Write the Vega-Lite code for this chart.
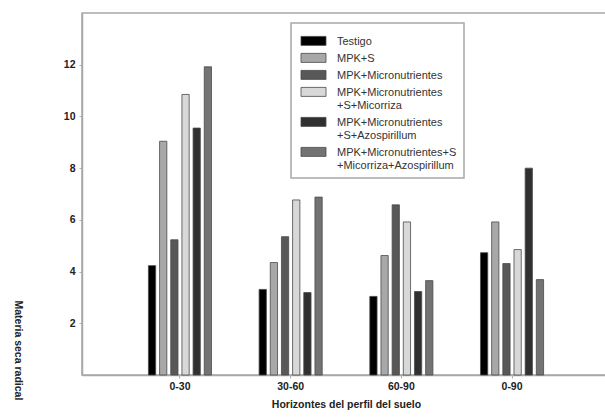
{
  "$schema": "https://vega.github.io/schema/vega-lite/v6.json",
  "width": 528,
  "height": 362,
  "autosize": {"type": "none"},
  "padding": {"left": 82, "top": 13, "right": 0, "bottom": 44},
  "background": "white",
  "config": {
    "font": "Liberation Sans",
    "view": {"stroke": "#a8a8a8", "strokeWidth": 1.5},
    "axis": {
      "domainColor": "#a8a8a8",
      "domainWidth": 1.5,
      "tickColor": "#b0b0b0",
      "labelFont": "Liberation Sans",
      "labelFontWeight": "bold",
      "labelColor": "#222222",
      "labelFontSize": 10.5,
      "titleFont": "Liberation Sans",
      "titleFontWeight": "bold",
      "titleColor": "#222222",
      "titleFontSize": 10.5,
      "grid": false
    }
  },
  "data": {
    "values": [
      {"h": "0-30", "t": "Testigo", "v": 4.23},
      {"h": "0-30", "t": "MPK+S", "v": 9.04},
      {"h": "0-30", "t": "MPK+Micronutrientes", "v": 5.23},
      {"h": "0-30", "t": "MPK+Micronutrientes|+S+Micorriza", "v": 10.85},
      {"h": "0-30", "t": "MPK+Micronutrientes|+S+Azospirillum", "v": 9.55},
      {"h": "0-30", "t": "MPK+Micronutrientes+S|+Micorriza+Azospirillum", "v": 11.92},
      {"h": "30-60", "t": "Testigo", "v": 3.31},
      {"h": "30-60", "t": "MPK+S", "v": 4.35},
      {"h": "30-60", "t": "MPK+Micronutrientes", "v": 5.35},
      {"h": "30-60", "t": "MPK+Micronutrientes|+S+Micorriza", "v": 6.77},
      {"h": "30-60", "t": "MPK+Micronutrientes|+S+Azospirillum", "v": 3.19},
      {"h": "30-60", "t": "MPK+Micronutrientes+S|+Micorriza+Azospirillum", "v": 6.88},
      {"h": "60-90", "t": "Testigo", "v": 3.04},
      {"h": "60-90", "t": "MPK+S", "v": 4.62},
      {"h": "60-90", "t": "MPK+Micronutrientes", "v": 6.58},
      {"h": "60-90", "t": "MPK+Micronutrientes|+S+Micorriza", "v": 5.92},
      {"h": "60-90", "t": "MPK+Micronutrientes|+S+Azospirillum", "v": 3.23},
      {"h": "60-90", "t": "MPK+Micronutrientes+S|+Micorriza+Azospirillum", "v": 3.65},
      {"h": "0-90", "t": "Testigo", "v": 4.73},
      {"h": "0-90", "t": "MPK+S", "v": 5.92},
      {"h": "0-90", "t": "MPK+Micronutrientes", "v": 4.31},
      {"h": "0-90", "t": "MPK+Micronutrientes|+S+Micorriza", "v": 4.85},
      {"h": "0-90", "t": "MPK+Micronutrientes|+S+Azospirillum", "v": 8.0},
      {"h": "0-90", "t": "MPK+Micronutrientes+S|+Micorriza+Azospirillum", "v": 3.69}
    ]
  },
  "mark": {"type": "bar", "stroke": "#4a4a4a", "strokeWidth": 0.8},
  "encoding": {
    "x": {
      "field": "h",
      "type": "nominal",
      "sort": ["0-30", "30-60", "60-90", "0-90"],
      "scale": {"paddingInner": 0.43, "paddingOuter": 0.6},
      "axis": {
        "title": "Horizontes del perfil del suelo",
        "labelAngle": 0,
        "tickSize": 3,
        "labelPadding": 3,
        "titlePadding": 8
      }
    },
    "xOffset": {
      "field": "t",
      "type": "nominal",
      "sort": null,
      "scale": {"paddingInner": 0.35, "paddingOuter": 0}
    },
    "y": {
      "field": "v",
      "type": "quantitative",
      "scale": {"domain": [0, 14], "nice": false},
      "axis": {
        "values": [2, 4, 6, 8, 10, 12],
        "title": "Materia seca radical",
        "titleAngle": 90,
        "titleAlign": "left",
        "titleBaseline": "middle",
        "titleX": -65,
        "titleY": 287,
        "tickSize": 3,
        "labelPadding": 4
      }
    },
    "fill": {
      "field": "t",
      "type": "nominal",
      "sort": null,
      "scale": {
        "domain": ["Testigo", "MPK+S", "MPK+Micronutrientes", "MPK+Micronutrientes|+S+Micorriza", "MPK+Micronutrientes|+S+Azospirillum", "MPK+Micronutrientes+S|+Micorriza+Azospirillum"],
        "range": ["#000000", "#a8a8a8", "#585858", "#d8d8d8", "#303030", "#737373"]
      },
      "legend": {
        "title": null,
        "orient": "none",
        "legendX": 209,
        "legendY": 10,
        "strokeColor": "#a8a8a8",
        "padding": 7,
        "symbolType": "M-2.78,0.2H2.78V2.2H-2.78Z",
        "symbolSize": 81,
        "symbolOffset": 10,
        "symbolStrokeColor": "#4a4a4a",
        "symbolStrokeWidth": 0.8,
        "labelOffset": 18,
        "labelFont": "Liberation Sans",
        "labelFontSize": 11,
        "labelColor": "#333333",
        "labelLimit": 300,
        "labelLineHeight": 12.5,
        "labelBaseline": "top",
        "rowPadding": 0,
        "labelExpr": "split(datum.label, '|')",
        "encode": {"legend": {"update": {"strokeWidth": {"value": 1.5}}}}
      }
    }
  }
}
